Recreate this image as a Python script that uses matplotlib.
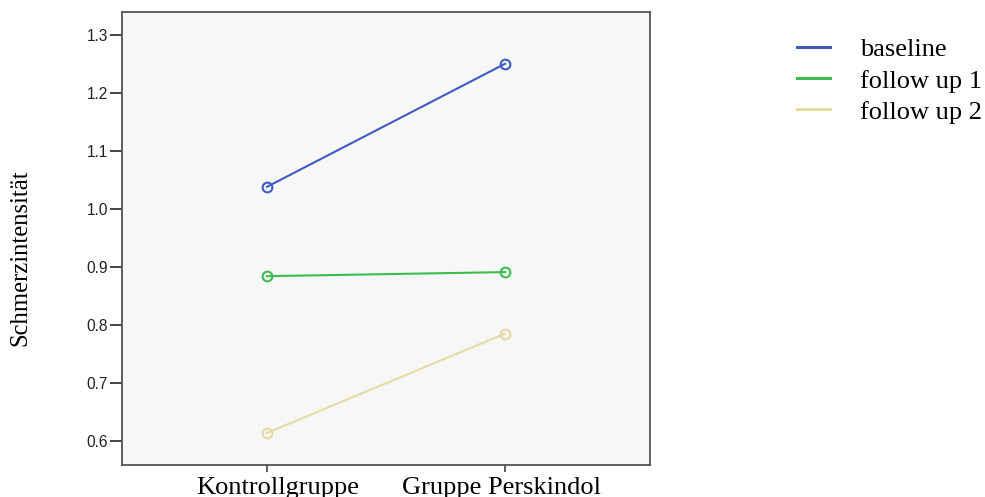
import matplotlib
matplotlib.use("Agg")
import matplotlib.pyplot as plt
from matplotlib.transforms import ScaledTranslation

categories = ["Kontrollgruppe", "Gruppe Perskindol"]
series_names = ["baseline", "follow up 1", "follow up 2"]
baseline = [1.038, 1.250]
follow_up_1 = [0.884, 0.891]
follow_up_2 = [0.614, 0.785]
y_ticks = [0.6, 0.7, 0.8, 0.9, 1.0, 1.1, 1.2, 1.3]
colors = ["#3f5bc2", "#3cbd4c", "#e5dca3"]

fig = plt.figure(figsize=(9.85, 4.97), dpi=100)
ax = fig.add_axes([0.1239, 0.0644, 0.536, 0.912])
ax.set_facecolor("#f7f7f7")

x = list(range(len(categories)))
for vals, name, c in zip([baseline, follow_up_1, follow_up_2], series_names, colors):
    ax.plot(x, vals, color=c, lw=1.5, marker="o", markersize=7,
            markerfacecolor="none", markeredgecolor=c, markeredgewidth=1.5, label=name)

ax.set_xlim(-0.609, 1.609)
ax.set_ylim(0.5586, 1.3397)
ax.set_xticks(x)
ax.set_xticklabels(categories, fontfamily="Liberation Serif", fontsize=19)
ax.set_yticks(y_ticks)
ax.set_yticklabels([f"{v:.1f}" for v in y_ticks], fontfamily="Liberation Sans", fontsize=11.2, color="#222222")
ax.tick_params(axis="x", direction="out", length=5, width=1.2, color="#444444", pad=3.5)
ax.tick_params(axis="y", direction="out", length=9, width=1.4, color="#444444", pad=1)
for s in ax.spines.values():
    s.set_color("#555555")
    s.set_linewidth(1.3)

# horizontal label offsets as in the reference (pixels)
for lbl, dx in zip(ax.get_xticklabels(), [11, -4]):
    lbl.set_transform(lbl.get_transform() + ScaledTranslation(dx / 100, 0, fig.dpi_scale_trans))

fig.text(0.021, 0.482, "Schmerzintensität", rotation=90, ha="center", va="center",
         fontfamily="Liberation Serif", fontsize=17.7)

leg_handles = [plt.Line2D([], [], color=c, lw=2.2) for c in colors]
fig.legend(leg_handles, series_names, loc="upper left", bbox_to_anchor=(797 / 985, 1 - 38 / 497),
           frameon=False, prop={"family": "Liberation Serif", "size": 19},
           handlelength=1.25, handletextpad=1.14, labelspacing=0.29,
           borderpad=0, borderaxespad=0)

fig.savefig("out.png", dpi=100)
